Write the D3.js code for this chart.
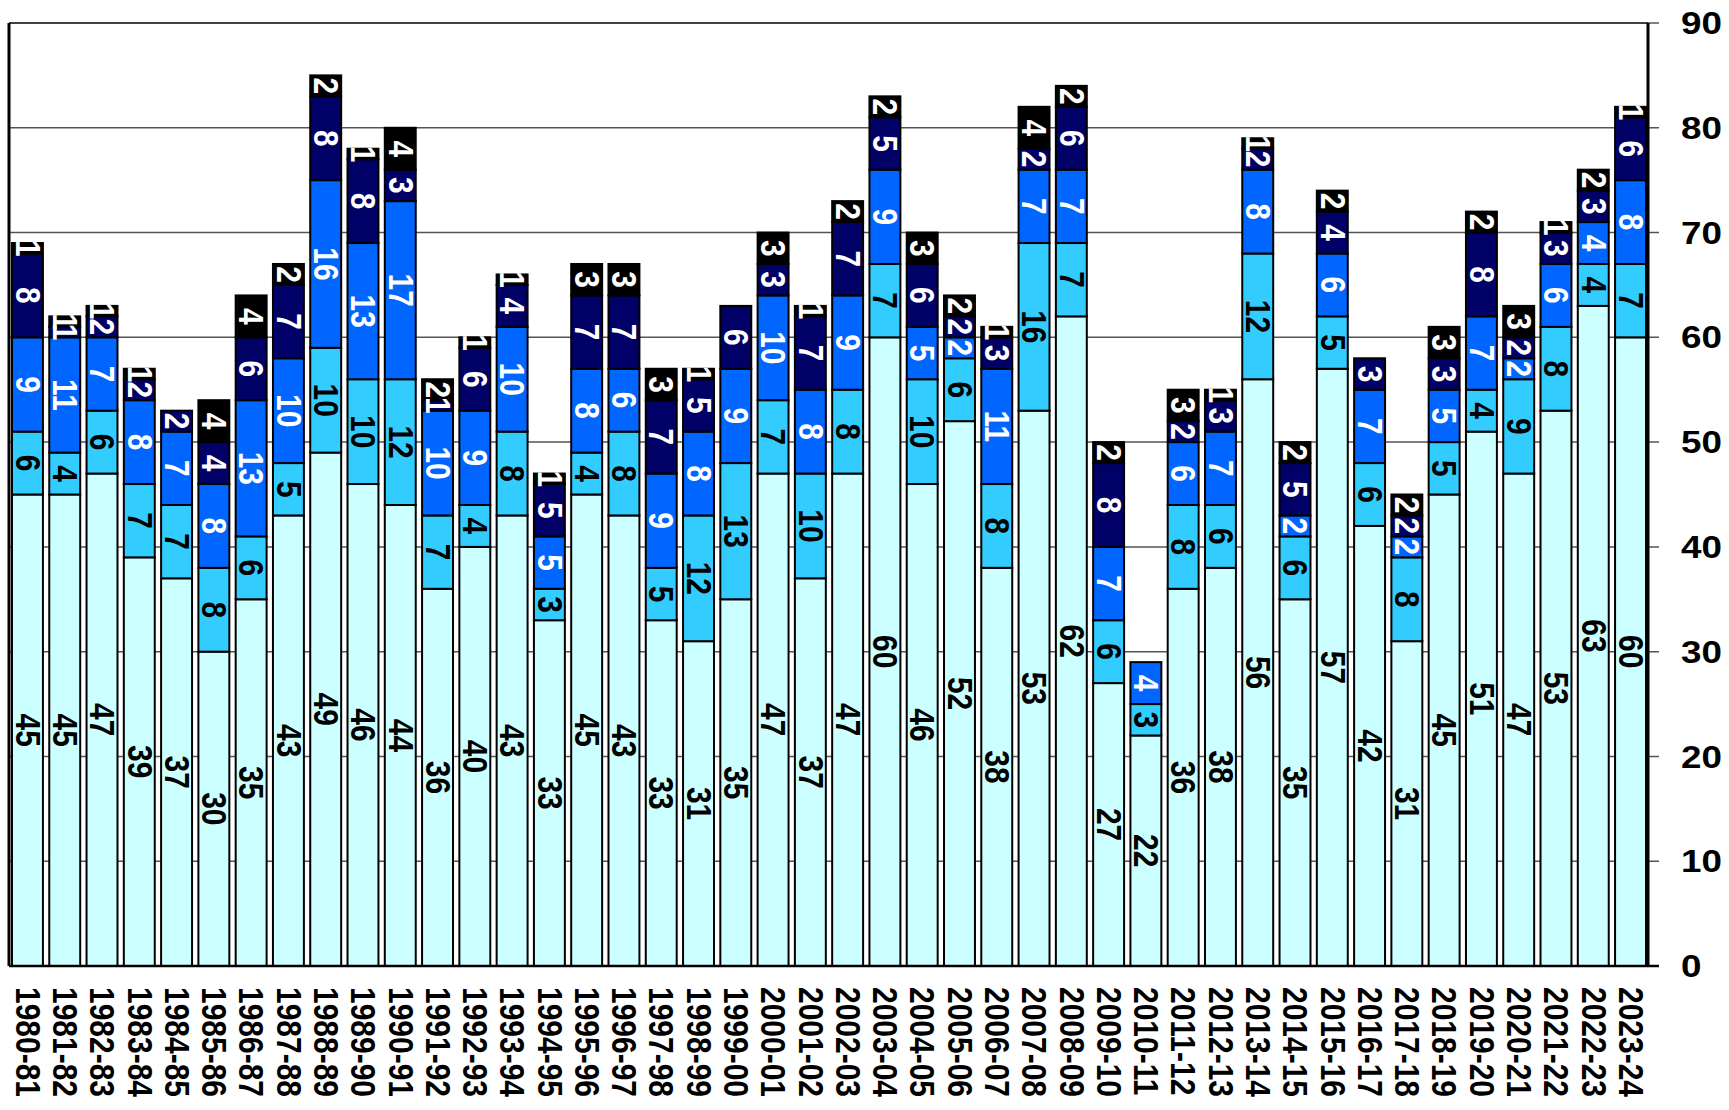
<!DOCTYPE html>
<html>
<head>
<meta charset="utf-8">
<script src="https://cdn.jsdelivr.net/npm/d3@7"></script>
<style>
  html, body { margin: 0; padding: 0; background: #fff; }
  svg { display: block; }
  text { font-family: "Liberation Sans", Arial, sans-serif; font-weight: bold; }
</style>
</head>
<body>
<svg id="chart" width="1729" height="1110"></svg>
<script>
const years = ["1980-81","1981-82","1982-83","1983-84","1984-85","1985-86","1986-87","1987-88","1988-89","1989-90",
  "1990-91","1991-92","1992-93","1993-94","1994-95","1995-96","1996-97","1997-98","1998-99","1999-00",
  "2000-01","2001-02","2002-03","2003-04","2004-05","2005-06","2006-07","2007-08","2008-09","2009-10",
  "2010-11","2011-12","2012-13","2013-14","2014-15","2015-16","2016-17","2017-18","2018-19","2019-20",
  "2020-21","2021-22","2022-23","2023-24"];

const seriesA = [45,45,47,39,37,30,35,43,49,46,44,36,40,43,33,45,43,33,31,35,47,37,47,60,46,52,38,53,62,27,22,36,38,56,35,57,42,31,45,51,47,53,63,60];
const seriesB = [6,4,6,7,7,8,6,5,10,10,12,7,4,8,3,4,8,5,12,13,7,10,8,7,10,6,8,16,7,6,3,8,6,12,6,5,6,8,5,4,9,8,4,7];
const seriesC = [9,11,7,8,7,8,13,10,16,13,17,10,9,10,5,8,6,9,8,9,10,8,9,9,5,2,11,7,7,7,4,6,7,8,2,6,7,2,5,7,2,6,4,8];
const seriesD = [8,1,2,2,2,4,6,7,8,8,3,1,6,4,5,7,7,7,5,6,3,7,7,5,6,2,3,2,6,8,0,2,3,2,5,4,3,2,3,8,2,3,3,6];
const seriesE = [1,1,1,1,0,4,4,2,2,1,4,2,1,1,1,3,3,3,1,0,3,1,2,2,3,2,1,4,2,2,0,3,1,1,2,2,0,2,3,2,3,1,2,1];

const yTicks = [0,10,20,30,40,50,60,70,80,90];

const keys = ["a","b","c","d","e"];
const fills = {a:"#CCFFFF", b:"#33CCFF", c:"#0066FF", d:"#000066", e:"#000000"};
const textFill = {a:"#000", b:"#000", c:"#fff", d:"#fff", e:"#fff"};

const rows = years.map((y,i)=>({year:y, a:seriesA[i], b:seriesB[i], c:seriesC[i], d:seriesD[i], e:seriesE[i]}));
const stacked = d3.stack().keys(keys)(rows);

const svg = d3.select("#chart");
const X0 = 9, X1 = 1649, Y0 = 966, Y1 = 23;
const x = d3.scaleBand().domain(years).range([X0, X1]).paddingInner(0.17).paddingOuter(0.08);
const y = d3.scaleLinear().domain([0, 90]).range([Y0, Y1]);
const SX = 1.15; // horizontal stretch of glyphs in the reference

svg.append("rect").attr("width",1729).attr("height",1110).attr("fill","#fff");

// gridlines + tick marks
svg.append("g").selectAll("line").data(yTicks.filter(t=>t>0 && t<90)).join("line")
  .attr("x1", X0).attr("x2", 1659)
  .attr("y1", d=>y(d)).attr("y2", d=>y(d))
  .attr("stroke", "#555").attr("stroke-width", 1.5);

// bars
const gBars = svg.append("g");
stacked.forEach(layer=>{
  gBars.append("g").selectAll("rect").data(layer.filter(d=>d[1]-d[0]>0)).join("rect")
    .attr("x", d=>x(d.data.year))
    .attr("width", x.bandwidth())
    .attr("y", d=>y(d[1]))
    .attr("height", d=>y(d[0])-y(d[1]))
    .attr("fill", fills[layer.key])
    .attr("stroke", "#000").attr("stroke-width", 2);
});

// segment labels
const gLab = svg.append("g");
stacked.forEach(layer=>{
  gLab.append("g").selectAll("text").data(layer.filter(d=>d[1]-d[0]>0)).join("text")
    .attr("transform", d=>`translate(${x(d.data.year)+x.bandwidth()/2},${y((d[0]+d[1])/2)}) scale(${SX},1) rotate(90)`)
    .attr("text-anchor","middle")
    .attr("dominant-baseline","central")
    .attr("font-size", 30)
    .attr("fill", textFill[layer.key])
    .text(d=>d[1]-d[0]);
});

// frame lines
svg.append("line").attr("x1",X0).attr("x2",1648).attr("y1",y(90)).attr("y2",y(90)).attr("stroke","#000").attr("stroke-width",1.5);
svg.append("line").attr("x1",1648).attr("x2",1659).attr("y1",y(90)).attr("y2",y(90)).attr("stroke","#555").attr("stroke-width",1.5);
svg.append("line").attr("x1",X0).attr("x2",1659).attr("y1",y(0)).attr("y2",y(0)).attr("stroke","#000").attr("stroke-width",2.5);
svg.append("line").attr("x1",X0).attr("x2",X0).attr("y1",y(90)).attr("y2",y(0)).attr("stroke","#000").attr("stroke-width",3);
svg.append("line").attr("x1",1648).attr("x2",1648).attr("y1",y(90)).attr("y2",y(0)).attr("stroke","#000").attr("stroke-width",3);

// y tick labels (right)
svg.append("g").selectAll("text").data(yTicks).join("text")
  .attr("transform", d=>`translate(1681,${y(d)}) scale(${SX},1)`)
  .attr("dominant-baseline","central")
  .attr("font-size", 32)
  .attr("fill","#000")
  .text(d=>d);

// x labels
svg.append("g").selectAll("text").data(years).join("text")
  .attr("transform", d=>`translate(${x(d)+x.bandwidth()/2},987) scale(${SX},1) rotate(90)`)
  .attr("text-anchor","start")
  .attr("dominant-baseline","central")
  .attr("font-size", 30)
  .attr("fill","#000")
  .text(d=>d);
</script>
</body>
</html>
